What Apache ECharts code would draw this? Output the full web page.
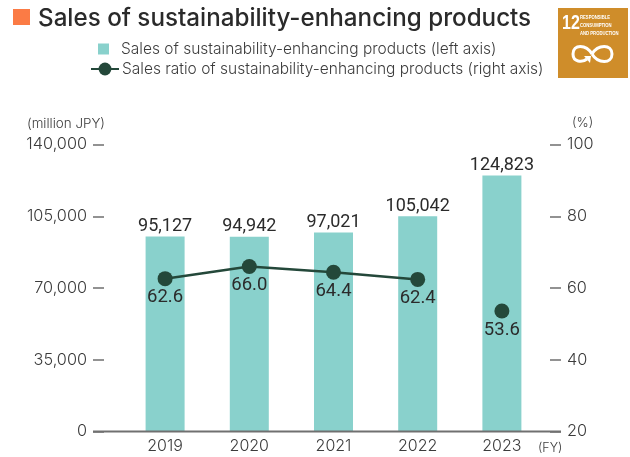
<!DOCTYPE html>
<html>
<head>
<meta charset="utf-8">
<style>html,body{margin:0;padding:0;background:#fff}#chart{width:630px;height:457px}</style>
<script src="https://cdn.jsdelivr.net/npm/echarts@6/dist/echarts.min.js"></script>
</head>
<body>
<div id="chart"></div>
<script>
const fiscalYears = ['2019', '2020', '2021', '2022', '2023'];
const salesAmount = [95127, 94942, 97021, 105042, 124823];
const salesRatio = [62.6, 66.0, 64.4, 62.4, null];
const salesRatioLatest = [null, null, null, null, 53.6];

const barName = 'Sales of sustainability-enhancing products (left axis)';
const lineName = 'Sales ratio of sustainability-enhancing products (right axis)';
const uiFont = 'Inter, "Open Sans", sans-serif';
const numFont = 'Roboto, "Liberation Sans", sans-serif';
const textColor = '#3c3c3c';
const tickColor = '#6f6f6f';
const ratioColor = '#24483a';

const ratioLabel = {
  show: true, position: 'bottom', distance: 2,
  fontFamily: numFont, fontSize: 18.5, color: '#2b2b2b',
  formatter: p => p.value == null ? '' : Number(p.value).toFixed(1)
};
const ratioSeries = {
  type: 'line', name: lineName, yAxisIndex: 1, symbol: 'circle', symbolSize: 15,
  itemStyle: { color: ratioColor },
  lineStyle: { color: ratioColor, width: 2.5 },
  label: ratioLabel, z: 5
};

const badgeStroke = { stroke: '#fff', lineWidth: 3, fill: 'none' };
const chart = echarts.init(document.getElementById('chart'), null, { renderer: 'canvas' });
chart.setOption({
  animation: false,
  backgroundColor: '#fff',
  grid: { left: 123, right: 86, top: 144.5, bottom: 25.5 },
  legend: [
    { data: [barName], left: 98, top: 41, padding: 0, orient: 'vertical', icon: 'rect', itemWidth: 11, itemHeight: 11,
      textStyle: { fontFamily: uiFont, fontSize: 15.5, fontWeight: 300, color: textColor, padding: [0, 0, 0, 7] } },
    { data: [lineName], left: 90, top: 61, padding: 0, orient: 'vertical', itemWidth: 28, itemHeight: 16,
      textStyle: { fontFamily: uiFont, fontSize: 15.5, fontWeight: 300, color: textColor, padding: [2, 0, 0, -2] } }
  ],
  xAxis: {
    type: 'category', data: fiscalYears,
    axisLine: { show: false }, axisTick: { show: false },
    axisLabel: { fontFamily: uiFont, fontSize: 16, fontWeight: 300, color: textColor, margin: 7 }
  },
  yAxis: [
    { type: 'value', min: 0, max: 140000, interval: 35000, position: 'left', offset: 19,
      axisLine: { show: false }, splitLine: { show: false },
      axisTick: { show: true, length: 11, lineStyle: { color: tickColor, width: 1.5 } },
      axisLabel: { fontFamily: uiFont, fontSize: 16.3, fontWeight: 300, color: textColor, margin: 17,
        formatter: v => v.toLocaleString('en-US') } },
    { type: 'value', min: 20, max: 100, interval: 20, position: 'right', offset: 6,
      axisLine: { show: false }, splitLine: { show: false },
      axisTick: { show: true, length: 11, lineStyle: { color: tickColor, width: 1.5 } },
      axisLabel: { fontFamily: uiFont, fontSize: 16.3, fontWeight: 300, color: textColor, margin: 17 } }
  ],
  series: [
    { type: 'bar', name: barName, data: salesAmount, barWidth: 39,
      itemStyle: { color: '#89d1cc' },
      label: { show: true, position: 'top', distance: 1, fontFamily: numFont, fontSize: 18, color: '#2b2b2b',
        formatter: p => p.value.toLocaleString('en-US') } },
    Object.assign({ data: salesRatio }, ratioSeries),
    Object.assign({ data: salesRatioLatest }, ratioSeries)
  ],
  graphic: [
    { type: 'rect', shape: { x: 13, y: 9, width: 17, height: 16 }, style: { fill: '#fb7b45' } },
    { type: 'text', x: 38, y: 7, style: { text: 'Sales of sustainability-enhancing products', fontFamily: uiFont, fontSize: 24.2, fontWeight: 500, fill: '#2a2a2a' } },
    { type: 'text', x: 27, y: 117, style: { text: '(million JPY)', fontFamily: uiFont, fontSize: 13.4, fontWeight: 300, fill: textColor } },
    { type: 'text', x: 572, y: 117, style: { text: '(%)', fontFamily: uiFont, fontSize: 13, fontWeight: 300, fill: textColor } },
    { type: 'text', x: 538, y: 442, style: { text: '(FY)', fontFamily: uiFont, fontSize: 12.5, fontWeight: 300, fill: textColor } },
    { type: 'line', shape: { x1: 93, y1: 431.5, x2: 561, y2: 431.5 }, style: { stroke: '#707070', lineWidth: 1.8 }, z: 10 },
    // SDG 12 badge
    { type: 'rect', shape: { x: 558, y: 8, width: 70, height: 70 }, style: { fill: '#cf8d2a' } },
    { type: 'text', x: 562, y: 13, scaleX: 0.8, style: { text: '12', fontFamily: '"Liberation Sans"', fontWeight: 'bold', fontSize: 20, fill: '#fff' } },
    { type: 'text', x: 580, y: 13, scaleX: 0.68, style: { text: 'RESPONSIBLE\nCONSUMPTION\nAND PRODUCTION', fontFamily: '"Liberation Sans"', fontWeight: 'bold', fontSize: 6.2, lineHeight: 8, fill: '#fff' } },
    { type: 'bezierCurve', shape: { x1: 592, y1: 54, cpx1: 586, cpy1: 44, cpx2: 573, cpy2: 44, x2: 573, y2: 54 }, style: badgeStroke },
    { type: 'bezierCurve', shape: { x1: 573, y1: 54, cpx1: 573, cpy1: 62, cpx2: 582, cpy2: 63, x2: 587, y2: 59 }, style: badgeStroke },
    { type: 'bezierCurve', shape: { x1: 592, y1: 54, cpx1: 598, cpy1: 44, cpx2: 612, cpy2: 44, x2: 612, y2: 54 }, style: badgeStroke },
    { type: 'bezierCurve', shape: { x1: 612, y1: 54, cpx1: 612, cpy1: 64, cpx2: 598, cpy2: 64, x2: 592, y2: 54 }, style: badgeStroke },
    { type: 'polygon', shape: { points: [[584, 56], [591, 56], [590, 63]] }, style: { fill: '#fff' } }
  ]
});
</script>
</body>
</html>
